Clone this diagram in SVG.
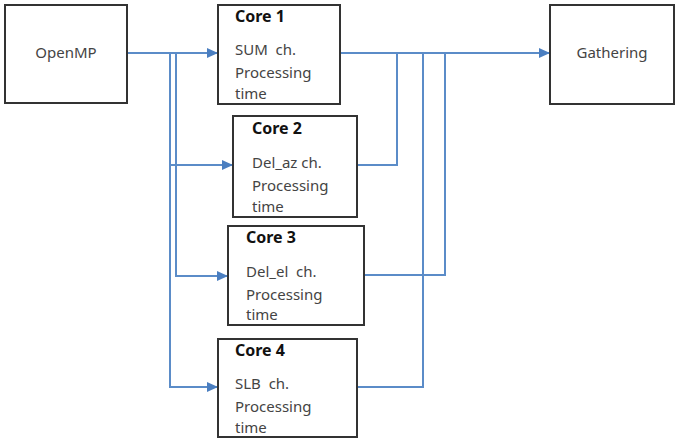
<svg xmlns="http://www.w3.org/2000/svg" width="677" height="438" viewBox="0 0 677 438">
<style>
.box{fill:#fff;stroke:#333;stroke-width:2}
.t{font-family:"Noto Sans","Liberation Sans",sans-serif;font-size:15px;fill:#444}
.h{font-family:"Noto Sans","Liberation Sans",sans-serif;font-size:16px;font-weight:bold;fill:#111}
.c{fill:none;stroke:#5B8CC8;stroke-width:2}
</style>
<defs>
<marker id="ah" markerWidth="12" markerHeight="12" refX="10" refY="5" orient="auto" markerUnits="userSpaceOnUse">
<path d="M0,0 L11,5 L0,10 Z" fill="#4A7EC0"/>
</marker>
</defs>
<rect width="677" height="438" fill="#fff"/>
<g id="connectors">
<path class="c" d="M127,53 H217" marker-end="url(#ah)"/>
<path class="c" d="M170,53 V387 H217" marker-end="url(#ah)"/>
<path class="c" d="M170,165 H232" marker-end="url(#ah)"/>
<path class="c" d="M176,53 V276 H227" marker-end="url(#ah)"/>
<path class="c" d="M340,53 H549" marker-end="url(#ah)"/>
<path class="c" d="M357,165 H397 V53"/>
<path class="c" d="M364,275 H445 V53"/>
<path class="c" d="M357,387 H423 V53"/>
</g>
<g id="openmp">
<rect class="box" x="5" y="5" width="122" height="98"/>
<text class="t" x="66" y="58" text-anchor="middle">OpenMP</text>
</g>
<g id="core1">
<rect class="box" x="218" y="5" width="122" height="99"/>
<text class="h" x="235" y="22">Core 1</text>
<text class="t" x="235" y="55" xml:space="preserve">SUM  ch.</text>
<text class="t" x="235" y="78">Processing</text>
<text class="t" x="235" y="99">time</text>
</g>
<g id="core2">
<rect class="box" x="233" y="116" width="124" height="101"/>
<text class="h" x="252" y="134">Core 2</text>
<text class="t" x="252" y="168">Del_az ch.</text>
<text class="t" x="252" y="191">Processing</text>
<text class="t" x="252" y="212">time</text>
</g>
<g id="core3">
<rect class="box" x="228" y="226" width="136" height="99"/>
<text class="h" x="246" y="243">Core 3</text>
<text class="t" x="246" y="277" xml:space="preserve">Del_el  ch.</text>
<text class="t" x="246" y="300">Processing</text>
<text class="t" x="246" y="320">time</text>
</g>
<g id="core4">
<rect class="box" x="218" y="339" width="139" height="98"/>
<text class="h" x="235" y="356">Core 4</text>
<text class="t" x="235" y="389" xml:space="preserve">SLB  ch.</text>
<text class="t" x="235" y="412">Processing</text>
<text class="t" x="235" y="433">time</text>
</g>
<g id="gathering">
<rect class="box" x="550" y="5" width="124" height="99"/>
<text class="t" x="612" y="58" text-anchor="middle">Gathering</text>
</g>
</svg>
